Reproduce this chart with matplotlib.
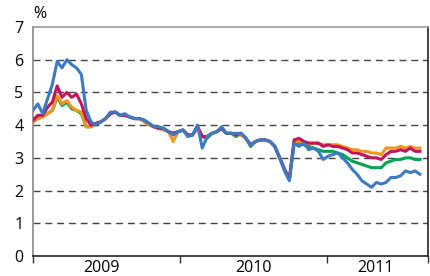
import matplotlib
matplotlib.use("Agg")
import matplotlib.pyplot as plt
import pandas as pd

# sampling every 12 days from 1 Jan 2009
dates = pd.date_range("2009-01-01", periods=81, freq="12D")

blue = [4.45, 4.65, 4.35, 4.8, 5.25, 5.95, 5.75, 6.0, 5.85, 5.75,
        5.55, 4.45, 4.1, 4.0, 4.1, 4.2, 4.4, 4.4, 4.3, 4.35,
        4.25, 4.2, 4.2, 4.15, 4.05, 3.95, 3.95, 3.9, 3.8, 3.7,
        3.8, 3.85, 3.65, 3.7, 4.0, 3.3, 3.65, 3.75, 3.8, 3.95,
        3.75, 3.75, 3.75, 3.75, 3.6, 3.4, 3.5, 3.55, 3.55, 3.5,
        3.35, 3.0, 2.6, 2.3, 3.45, 3.35, 3.45, 3.25, 3.3, 3.2,
        2.95, 3.05, 3.1, 3.15, 3.0, 2.85, 2.65, 2.5, 2.3, 2.2,
        2.1, 2.25, 2.2, 2.25, 2.4, 2.4, 2.45, 2.6, 2.55, 2.6, 2.5]

magenta = [4.15, 4.3, 4.3, 4.55, 4.7, 5.2, 4.85, 5.0, 4.85, 4.95,
           4.65, 4.2, 4.0, 4.05, 4.1, 4.2, 4.35, 4.4, 4.3, 4.3,
           4.25, 4.2, 4.2, 4.15, 4.05, 3.95, 3.9, 3.9, 3.8, 3.75,
           3.8, 3.85, 3.7, 3.7, 3.95, 3.65, 3.65, 3.75, 3.8, 3.9,
           3.75, 3.75, 3.7, 3.75, 3.6, 3.4, 3.5, 3.55, 3.55, 3.5,
           3.35, 3.0, 2.65, 2.35, 3.55, 3.6, 3.5, 3.45, 3.45, 3.45,
           3.35, 3.4, 3.35, 3.35, 3.3, 3.25, 3.15, 3.15, 3.1, 3.05,
           3.0, 3.0, 2.95, 3.1, 3.2, 3.2, 3.25, 3.2, 3.3, 3.2, 3.2]

orange = [4.1, 4.2, 4.25, 4.35, 4.45, 4.9, 4.65, 4.75, 4.55, 4.45,
          4.4, 3.95, 3.95, 4.05, 4.1, 4.2, 4.35, 4.4, 4.3, 4.3,
          4.25, 4.2, 4.2, 4.1, 4.0, 3.95, 3.9, 3.85, 3.8, 3.5,
          3.8, 3.85, 3.7, 3.7, 3.95, 3.65, 3.65, 3.75, 3.8, 3.9,
          3.75, 3.75, 3.7, 3.7, 3.6, 3.4, 3.5, 3.55, 3.55, 3.5,
          3.35, 3.0, 2.65, 2.35, 3.5, 3.5, 3.45, 3.45, 3.45, 3.45,
          3.4, 3.4, 3.4, 3.4, 3.35, 3.3, 3.25, 3.25, 3.2, 3.2,
          3.15, 3.15, 3.1, 3.3, 3.3, 3.3, 3.35, 3.3, 3.35, 3.3, 3.3]

green = [4.1, 4.2, 4.25, 4.35, 4.45, 4.85, 4.6, 4.7, 4.5, 4.45,
         4.35, 3.95, 3.95, 4.05, 4.1, 4.2, 4.35, 4.4, 4.3, 4.3,
         4.25, 4.2, 4.2, 4.15, 4.05, 3.95, 3.9, 3.9, 3.8, 3.75,
         3.8, 3.85, 3.7, 3.7, 3.95, 3.65, 3.6, 3.75, 3.8, 3.9,
         3.75, 3.75, 3.65, 3.75, 3.6, 3.35, 3.5, 3.55, 3.55, 3.5,
         3.35, 3.0, 2.65, 2.35, 3.5, 3.45, 3.4, 3.35, 3.3, 3.25,
         3.2, 3.2, 3.2, 3.15, 3.1, 3.0, 2.9, 2.85, 2.8, 2.75,
         2.7, 2.7, 2.7, 2.85, 2.9, 2.95, 2.95, 3.0, 3.0, 2.95, 2.95]

year_labels = ["2009", "2010", "2011"]
yticks = [0, 1, 2, 3, 4, 5, 6, 7]

plt.rcParams["font.family"] = ["Open Sans", "DejaVu Sans"]

fig = plt.figure(figsize=(4.3, 2.76), dpi=100)
ax = fig.add_axes([33 / 430, 20 / 276, 395 / 430, 229 / 276])

for yv in yticks[1:-1]:
    ax.axhline(yv, color="#444444", lw=1.0, dashes=(5, 3.5), zorder=1)

ax.plot(dates, green, color="#00a551", lw=2.2, zorder=2)
ax.plot(dates, orange, color="#f7941d", lw=2.2, zorder=3)
ax.plot(dates, magenta, color="#c4125c", lw=2.2, zorder=4)
ax.plot(dates, blue, color="#3b7bc4", lw=2.2, zorder=5)

ax.set_ylim(0, 7)
ax.set_yticks(yticks)
ax.tick_params(axis="y", length=0, labelsize=11.5, pad=7)

x0 = pd.Timestamp("2009-01-01")
x1 = pd.Timestamp("2011-09-08")
ax.set_xlim(x0, x1)
ax.set_xticks([x0, pd.Timestamp("2010-01-01"), pd.Timestamp("2011-01-01"), x1])
ax.set_xticklabels([])
ax.tick_params(axis="x", which="major", length=5, width=1, color="#333333", direction="out")
ax.set_xticks([pd.Timestamp("2009-06-20"), pd.Timestamp("2010-07-02"), pd.Timestamp("2011-05-01")], minor=True)
ax.set_xticklabels(year_labels, minor=True)
ax.tick_params(axis="x", which="minor", length=0, labelsize=11.5, pad=3)

ax.spines["left"].set_color("#888888")
ax.spines["top"].set_color("#999999")
ax.spines["right"].set_color("#222222")
ax.spines["bottom"].set_color("#222222")
for s in ax.spines.values():
    s.set_linewidth(1.2)

fig.text(33 / 430, 1 - 14 / 276, "%", ha="left", va="center", fontsize=11.5)

fig.savefig("out.png", dpi=100)
